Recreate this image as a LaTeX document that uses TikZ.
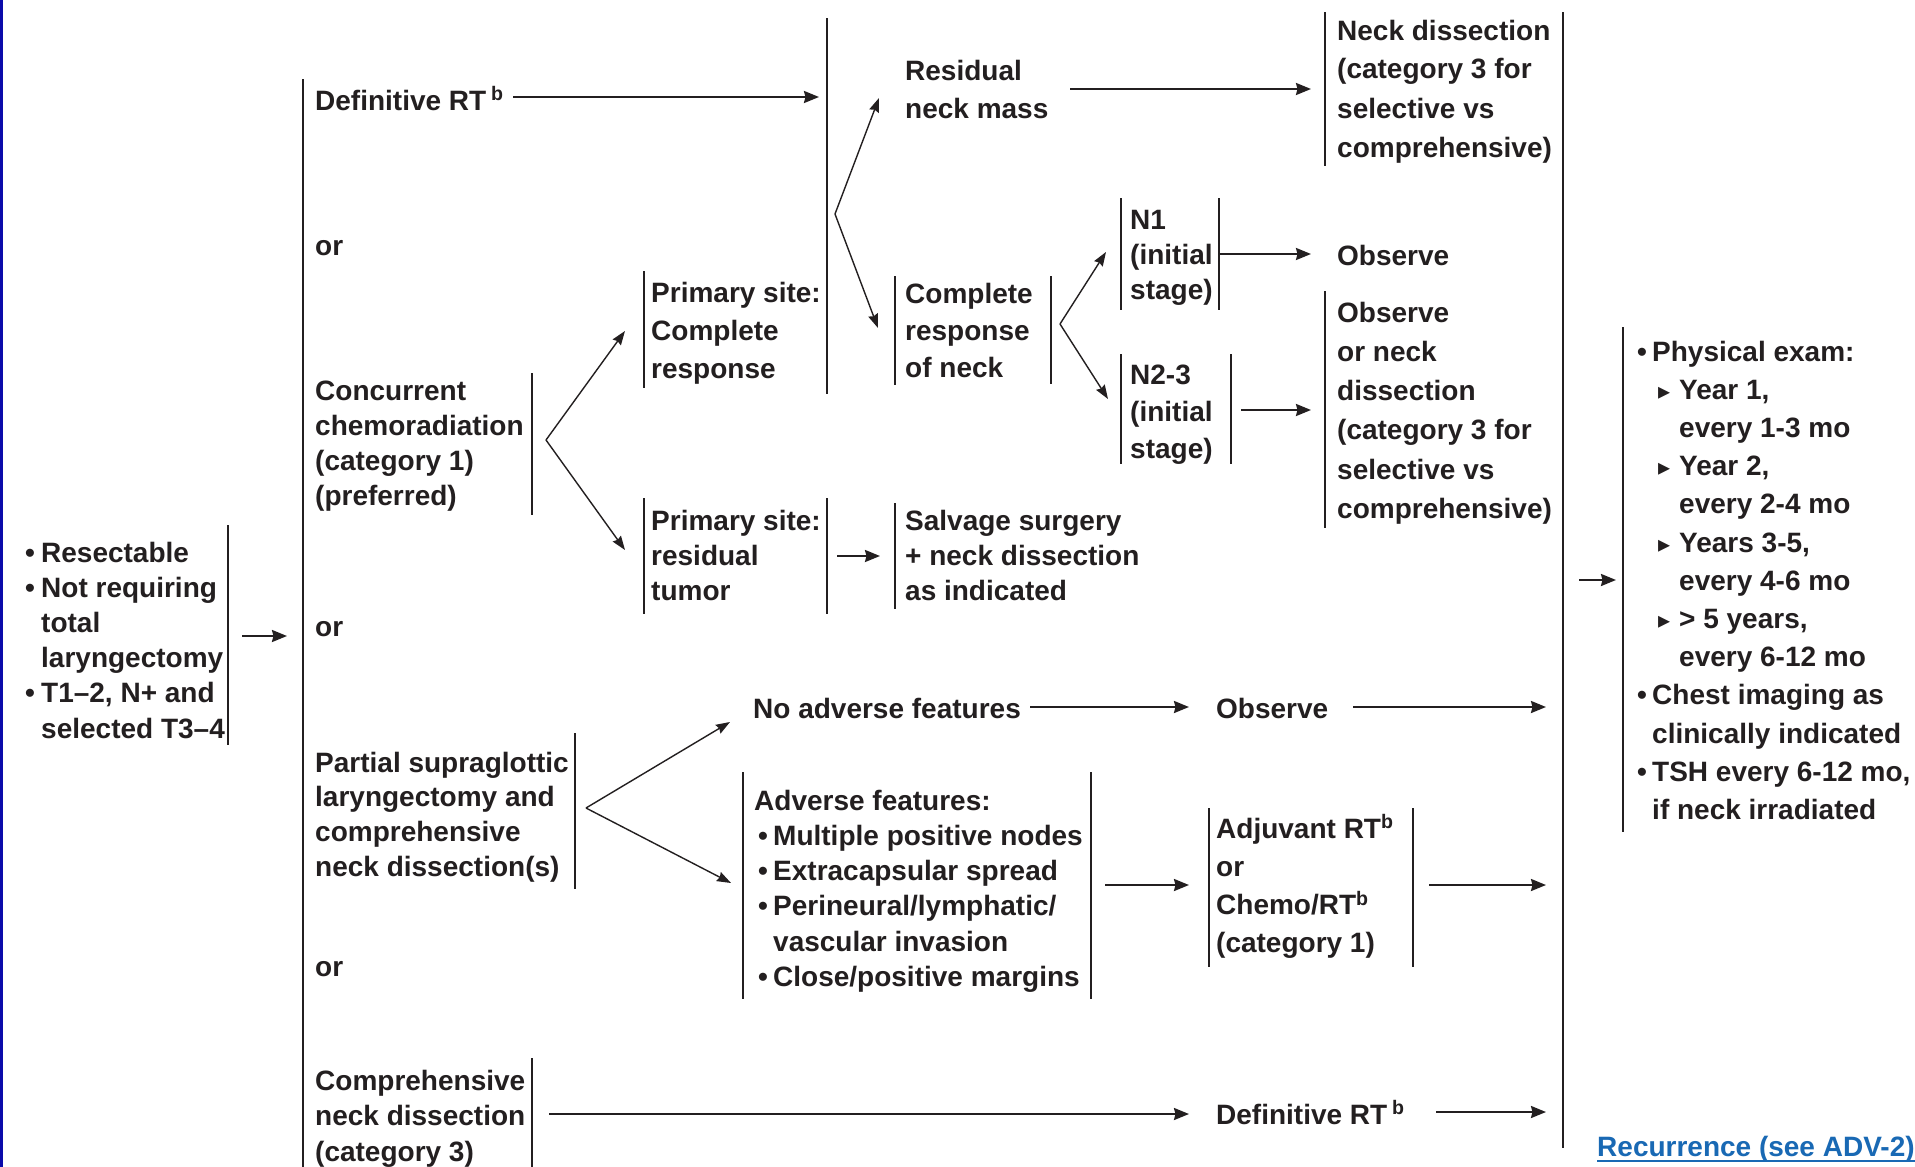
\documentclass[tikz,border=0pt]{standalone}
\usepackage{fontspec}
\setmainfont{Liberation Sans}
\newfontfamily\dejavu{DejaVu Sans}
\usetikzlibrary{arrows.meta}
\definecolor{ink}{RGB}{35,31,32}
\definecolor{linkblue}{RGB}{25,105,180}
\definecolor{edgeblue}{RGB}{10,10,170}
\newcommand\ml[2]{{\fontsize{28}{#1}\selectfont\begin{tabular}[t]{@{}l@{}}#2\end{tabular}}}
\newcommand\bul[1][15pt]{\makebox[#1][l]{•}}
\newcommand\tri{\makebox[21pt][l]{{\dejavu\fontsize{24}{24}\selectfont ▸}}}
\newcommand\supb{\textsuperscript{b}}
\tikzset{
  txt/.style={inner sep=0pt, anchor=base west, text=ink, font=\bfseries},
  bar/.style={draw=ink, line width=1.8pt},
  arr/.style={draw=ink, line width=2.2pt, -{Stealth[length=15pt,width=12pt,inset=1.5pt]}},
  fork/.style={draw=ink, line width=1.4pt, -{Stealth[length=14pt,width=10pt,inset=1.5pt]}},
}
\begin{document}
\begin{tikzpicture}[x=1pt,y=-1pt]
\useasboundingbox (0,0) rectangle (1915,1167);
\fill[white] (0,0) rectangle (1915,1167);
\fill[edgeblue] (0,0) rectangle (2.5,1167);

% ---------- text nodes ----------
\node[txt] (lft) at (25,562) {\ml{35.2}{\bul[16pt]Resectable\\ \bul[16pt]Not requiring\\ \hspace{16pt}total\\ \hspace{16pt}laryngectomy\\ \bul[16pt]T1–2, N+ and\\ \hspace{16pt}selected T3–4}};

\node[txt] (defrt) at (315,110) {\ml{35}{Definitive RT\,\supb}};
\node[txt] (or1) at (315,255) {\ml{35}{or}};
\node[txt] (conc) at (315,400) {\ml{35}{Concurrent\\chemoradiation\\(category 1)\\(preferred)}};
\node[txt] (or2) at (315,636) {\ml{35}{or}};
\node[txt] (part) at (315,772) {\ml{34.7}{Partial supraglottic\\laryngectomy and\\comprehensive\\neck dissection(s)}};
\node[txt] (or3) at (315,976) {\ml{35}{or}};
\node[txt] (comp) at (315,1090) {\ml{35.5}{Comprehensive\\neck dissection\\(category 3)}};

\node[txt] (psc) at (651,302) {\ml{38}{Primary site:\\Complete\\response}};
\node[txt] (psr) at (651,530) {\ml{35}{Primary site:\\residual\\tumor}};
\node[txt] (salv) at (905,530) {\ml{35}{Salvage surgery\\+ neck dissection\\as indicated}};
\node[txt] (resid) at (905,80) {\ml{38}{Residual\\neck mass}};
\node[txt] (crn) at (905,303) {\ml{37}{Complete\\response\\of neck}};
\node[txt] (n1) at (1130,229) {\ml{35}{N1\\(initial\\stage)}};
\node[txt] (n23) at (1130,384) {\ml{37}{N2-3\\(initial\\stage)}};
\node[txt] (nd) at (1337,40) {\ml{39}{Neck dissection\\(category 3 for\\selective vs\\comprehensive)}};
\node[txt] (obs1) at (1337,265) {\ml{35}{Observe}};
\node[txt] (obsnd) at (1337,322) {\ml{39.3}{Observe\\or neck\\dissection\\(category 3 for\\selective vs\\comprehensive)}};

\node[txt] (noadv) at (753,718) {\ml{35}{No adverse features}};
\node[txt] (obs2) at (1216,718) {\ml{35}{Observe}};
\node[txt] (adv) at (754,810) {\ml{35.3}{Adverse features:\\ \hspace{4pt}\bul Multiple positive nodes\\ \hspace{4pt}\bul Extracapsular spread\\ \hspace{4pt}\bul Perineural/lymphatic/\\ \hspace{19pt}vascular invasion\\ \hspace{4pt}\bul Close/positive margins}};
\node[txt] (adj) at (1216,838) {\ml{38.3}{Adjuvant RT\supb\\or\\Chemo/RT\supb\\(category 1)}};
\node[txt] (def2) at (1216,1124) {\ml{35}{Definitive RT\,\supb}};

\node[txt] (fu) at (1637,361) {\ml{38.2}{\bul Physical exam:\\
 \hspace{21pt}\tri Year 1,\\ \hspace{42pt}every 1-3 mo\\
 \hspace{21pt}\tri Year 2,\\ \hspace{42pt}every 2-4 mo\\
 \hspace{21pt}\tri Years 3-5,\\ \hspace{42pt}every 4-6 mo\\
 \hspace{21pt}\tri > 5 years,\\ \hspace{42pt}every 6-12 mo\\
 \bul Chest imaging as\\ \hspace{15pt}clinically indicated\\
 \bul TSH every 6-12 mo,\\ \hspace{15pt}if neck irradiated}};

\node[txt, text=linkblue] (rec) at (1597,1156) {\ml{35}{Recurrence (see ADV-2)}};
\draw[linkblue, line width=2pt] ([yshift=-5pt]rec.base west) -- ([yshift=-5pt]rec.base east);

% ---------- bars ----------
\draw[bar] (228,525) -- (228,745);
\draw[bar] (303,79) -- (303,1167);
\draw[bar] (532,373) -- (532,515);
\draw[bar] (575,733) -- (575,889);
\draw[bar] (532,1058) -- (532,1167);
\draw[bar] (644,271) -- (644,388);
\draw[bar] (644,498) -- (644,614);
\draw[bar] (827,18) -- (827,394);
\draw[bar] (827,498) -- (827,614);
\draw[bar] (895,276) -- (895,385);
\draw[bar] (1051,276) -- (1051,384);
\draw[bar] (895,503) -- (895,609);
\draw[bar] (1121,198) -- (1121,310);
\draw[bar] (1219,198) -- (1219,310);
\draw[bar] (1121,354) -- (1121,464);
\draw[bar] (1231,354) -- (1231,464);
\draw[bar] (1325,12) -- (1325,166);
\draw[bar] (1325,291) -- (1325,528);
\draw[bar] (1563,12) -- (1563,1148);
\draw[bar] (743,772) -- (743,999);
\draw[bar] (1091,772) -- (1091,999);
\draw[bar] (1209,808) -- (1209,967);
\draw[bar] (1413,808) -- (1413,967);
\draw[bar] (1623,327) -- (1623,832);

% ---------- connector end points ----------
\coordinate (a1s) at (242,636);  \coordinate (a1e) at (287,636);
\coordinate (a2s) at (513,97);   \coordinate (a2e) at (819,97);
\coordinate (f1) at (835,214);   \coordinate (f1u) at (879,98);  \coordinate (f1d) at (878,328);
\coordinate (a4s) at (1070,89);  \coordinate (a4e) at (1311,89);
\coordinate (f2) at (1060,324);  \coordinate (f2u) at (1106,252); \coordinate (f2d) at (1108,399);
\coordinate (a6s) at (1219,254); \coordinate (a6e) at (1311,254);
\coordinate (a7s) at (1241,410); \coordinate (a7e) at (1311,410);
\coordinate (f3) at (546,440);   \coordinate (f3u) at (625,331); \coordinate (f3d) at (625,550);
\coordinate (a9s) at (837,556);  \coordinate (a9e) at (880,556);
\coordinate (f4) at (586,808);   \coordinate (f4u) at (730,722); \coordinate (f4d) at (731,883);
\coordinate (a11s) at (1030,707); \coordinate (a11e) at (1189,707);
\coordinate (a12s) at (1353,707); \coordinate (a12e) at (1546,707);
\coordinate (a13s) at (1105,885); \coordinate (a13e) at (1189,885);
\coordinate (a14s) at (1429,885); \coordinate (a14e) at (1546,885);
\coordinate (a15s) at (549,1114); \coordinate (a15e) at (1189,1114);
\coordinate (a16s) at (1436,1112); \coordinate (a16e) at (1546,1112);
\coordinate (a17s) at (1579,580); \coordinate (a17e) at (1616,580);

% ---------- connectors ----------
\draw[arr] (a1s) -- (a1e);
\draw[arr] (a2s) -- (a2e);
\draw[fork] (f1) -- (f1u);
\draw[fork] (f1) -- (f1d);
\draw[arr] (a4s) -- (a4e);
\draw[fork] (f2) -- (f2u);
\draw[fork] (f2) -- (f2d);
\draw[arr] (a6s) -- (a6e);
\draw[arr] (a7s) -- (a7e);
\draw[fork] (f3) -- (f3u);
\draw[fork] (f3) -- (f3d);
\draw[arr] (a9s) -- (a9e);
\draw[fork] (f4) -- (f4u);
\draw[fork] (f4) -- (f4d);
\draw[arr] (a11s) -- (a11e);
\draw[arr] (a12s) -- (a12e);
\draw[arr] (a13s) -- (a13e);
\draw[arr] (a14s) -- (a14e);
\draw[arr] (a15s) -- (a15e);
\draw[arr] (a16s) -- (a16e);
\draw[arr] (a17s) -- (a17e);
\end{tikzpicture}
\end{document}
